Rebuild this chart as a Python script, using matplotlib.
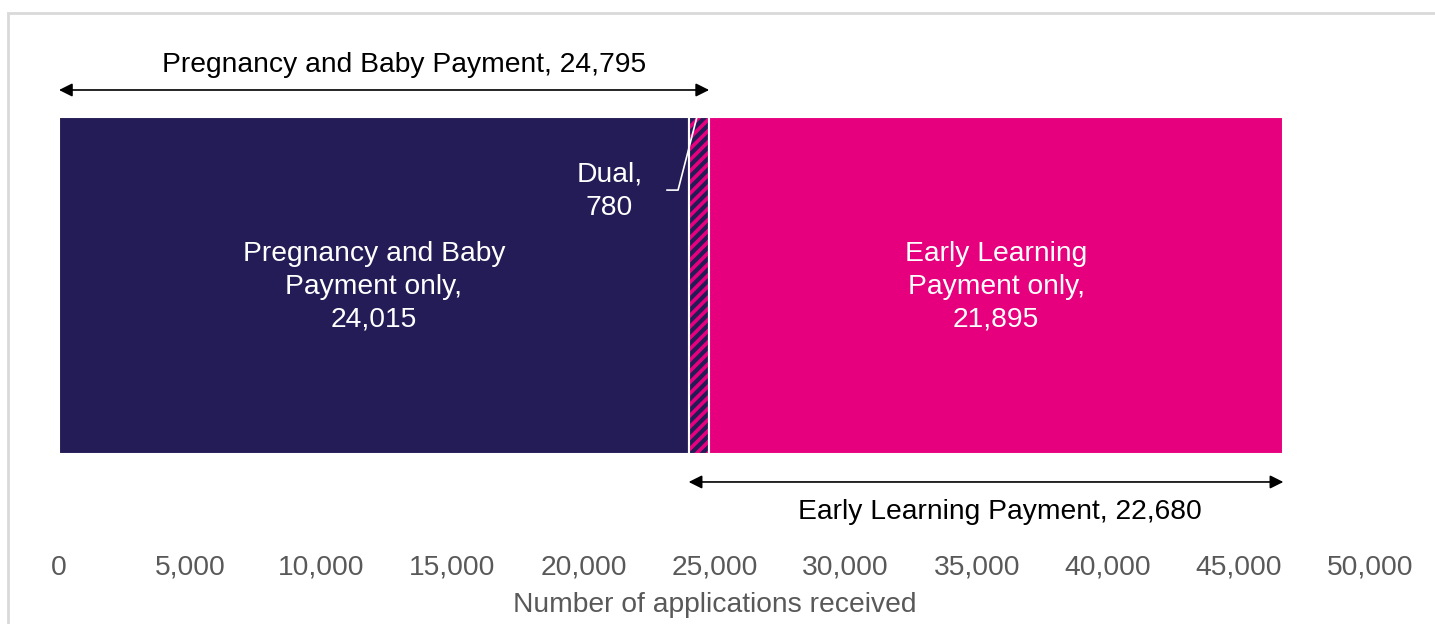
import matplotlib
matplotlib.use("Agg")
import matplotlib.pyplot as plt
from matplotlib.patches import Rectangle

plt.rcParams['font.family'] = ['Liberation Sans', 'DejaVu Sans']
plt.rcParams['hatch.linewidth'] = 3.0

# data
segments = ["Pregnancy and Baby\nPayment only,", "Dual,", "Early Learning\nPayment only,"]
values = [24015, 780, 21895]
totals = {"Pregnancy and Baby Payment": 24795, "Early Learning Payment": 22680}
ticks = [0, 5000, 10000, 15000, 20000, 25000, 30000, 35000, 40000, 45000, 50000]

navy = "#241C57"
pink = "#E6007E"
grey = "#595959"

fig = plt.figure(figsize=(14.35, 6.24), dpi=100)
ax = fig.add_axes([59 / 1435, 1 - 545 / 624, (1370 - 59) / 1435, 515 / 624])

# light frame around the chart
fig.patches.append(Rectangle((8 / 1435, -0.1), 1.2, (624 - 13) / 624 + 0.1,
                             transform=fig.transFigure, fill=False,
                             edgecolor="#D9D9D9", linewidth=2))

pbp_only, dual, elp_only = values
ax.barh(0, pbp_only, left=0, height=1, color=navy, edgecolor="white", linewidth=1.5)
ax.barh(0, dual, left=pbp_only, height=1, color=pink, edgecolor=navy, hatch="///", linewidth=0)
ax.barh(0, dual, left=pbp_only, height=1, fill=False, edgecolor="white", linewidth=1.5)
ax.barh(0, elp_only, left=pbp_only + dual, height=1, color=pink, edgecolor="white", linewidth=1.5)

fs = 20.3
ls = 1.34
ax.text(pbp_only / 2, -0.005, f"{segments[0]}\n{pbp_only:,}", color="white",
        ha="center", va="center", fontsize=fs, linespacing=ls)
ax.text(pbp_only + dual + elp_only / 2, -0.005, f"{segments[2]}\n{elp_only:,}", color="white",
        ha="center", va="center", fontsize=fs, linespacing=ls)
ax.text(21000, 0.28, f"{segments[1]}\n{dual}", color="white",
        ha="center", va="center", fontsize=fs, linespacing=ls)
# leader line for Dual
ax.plot([23190, 23610, 24330], [0.283, 0.283, 0.5], color="white", lw=1.2)

# span arrows
pbp_total = totals["Pregnancy and Baby Payment"]
elp_total = totals["Early Learning Payment"]
arrow = dict(arrowstyle="<|-|>", color="black", lw=1.2, mutation_scale=20, shrinkA=0, shrinkB=0)
ax.annotate("", xy=(0, 0.58), xytext=(pbp_total, 0.58), arrowprops=arrow)
ax.text(pbp_total / 2 + 760, 0.655, f"Pregnancy and Baby Payment, {pbp_total:,}",
        ha="center", va="center", fontsize=fs, color="black")
ax.annotate("", xy=(pbp_only, -0.583), xytext=(pbp_only + elp_total, -0.583), arrowprops=arrow)
ax.text(pbp_only + elp_total / 2 + 530, -0.672, f"Early Learning Payment, {elp_total:,}",
        ha="center", va="center", fontsize=fs, color="black")

ax.set_xlim(0, 50000)
ax.set_ylim(-0.770, 0.758)
ax.set_xticks(ticks)
ax.set_xticklabels([f"{t:,}" for t in ticks], fontsize=fs, color=grey)
ax.tick_params(axis="x", length=0, pad=7)
ax.set_yticks([])
for s in ax.spines.values():
    s.set_visible(False)
ax.set_xlabel("Number of applications received", fontsize=fs, color=grey, labelpad=8)

fig.savefig("out.png", dpi=100)
